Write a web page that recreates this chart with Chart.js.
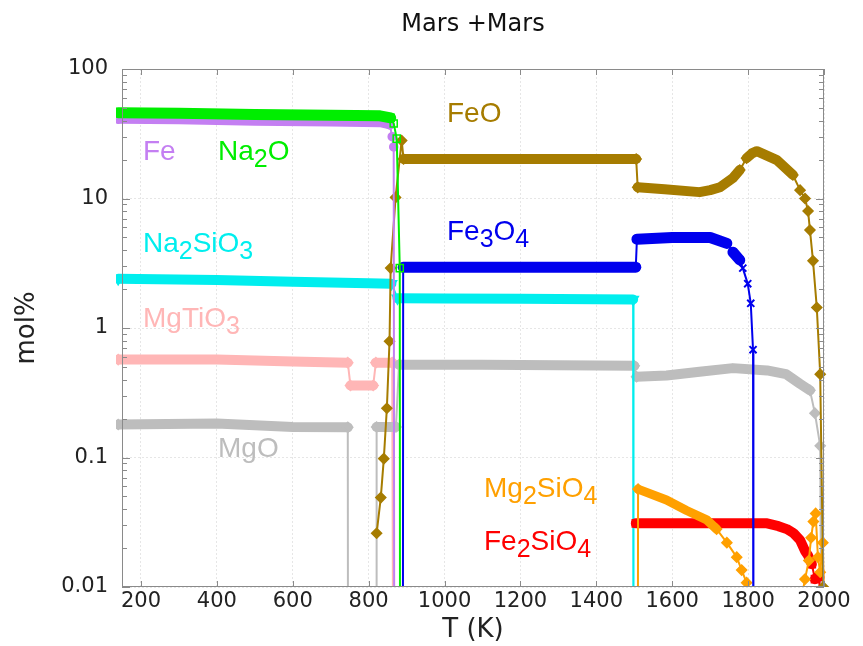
<!DOCTYPE html>
<html>
<head>
<meta charset="utf-8">
<script src="https://cdn.jsdelivr.net/npm/chart.js@4.4.1/dist/chart.umd.min.js"></script>
<style>
  html, body { margin: 0; padding: 0; background: #fff; }
</style>
</head>
<body>
<canvas id="phaseChart" width="863" height="646"></canvas>
<script>
const chartTitle = 'Mars +Mars';
const xTicks = [200, 400, 600, 800, 1000, 1200, 1400, 1600, 1800, 2000];
const yTicks = [0.01, 0.1, 1, 10, 100];

// temperature (K) / amount (mol%) per species
const feT = [140, 300, 500, 700, 830, 856, 862, 866, 868];
const feMol = [41, 40.5, 39.5, 39, 38.5, 37, 30, 25, 0.0001];

const na2oT = [140, 300, 500, 700, 830, 858, 866, 874, 882, 883];
const na2oMol = [46, 45.5, 44.5, 44, 43.5, 42, 38, 29, 2.9, 0.0001];

const feoT = [821, 832, 840, 848, 855, 858, 871, 887, 892, 1100, 1300, 1505, 1509, 1580, 1672, 1700, 1726, 1760, 1778, 1796, 1810, 1823, 1876, 1918, 1937, 1950, 1958, 1963, 1971, 1981, 1990, 1998];
const feoMol = [0.026, 0.049, 0.098, 0.24, 0.79, 2.9, 10.2, 28, 20.2, 20.2, 20.2, 20.2, 12.2, 11.8, 11.2, 11.6, 12.2, 14.4, 16.6, 20.5, 22.3, 23.2, 19.8, 15.2, 11.6, 10, 8, 5.7, 3.3, 1.44, 0.44, 0.01];

const fe3o4T = [890, 891, 1100, 1300, 1504, 1507, 1600, 1700, 1744, 1760, 1778, 1786, 1799, 1807, 1813, 1814];
const fe3o4Mol = [0.0001, 2.95, 2.95, 2.95, 2.95, 4.85, 5.0, 5.0, 4.5, 3.85, 3.35, 2.9, 2.2, 1.55, 0.68, 0.0001];

const na2sio3T = [140, 400, 600, 800, 860, 876, 1000, 1200, 1400, 1497, 1498];
const na2sio3Mol = [2.4, 2.35, 2.28, 2.22, 2.2, 1.7, 1.69, 1.68, 1.67, 1.66, 0.0001];

const mgtio3T = [140, 400, 600, 745, 752, 812, 819, 862, 866];
const mgtio3Mol = [0.57, 0.57, 0.55, 0.54, 0.36, 0.36, 0.54, 0.54, 0.0001];

const mgoT = [140, 400, 600, 745, 746, 820, 821, 872, 880, 1100, 1300, 1500, 1506, 1585, 1672, 1760, 1850, 1900, 1937, 1963, 1976, 1990, 1996];
const mgoMol = [0.18, 0.183, 0.172, 0.171, 0.0001, 0.0001, 0.172, 0.172, 0.52, 0.52, 0.515, 0.51, 0.42, 0.43, 0.46, 0.49, 0.47, 0.44, 0.37, 0.33, 0.22, 0.123, 0.0001];

const mg2sio4T = [1509, 1510, 1585, 1638, 1691, 1717, 1744, 1770, 1783, 1796, 1805, 1940, 1950, 1960, 1966, 1972, 1978, 1984, 1990, 1997, 2000];
const mg2sio4Mol = [0.0001, 0.057, 0.047, 0.039, 0.033, 0.028, 0.022, 0.017, 0.0135, 0.0108, 0.008, 0.008, 0.0115, 0.016, 0.024, 0.032, 0.037, 0.017, 0.013, 0.022, 0.008];

const fe2sio4T = [1504, 1600, 1700, 1800, 1850, 1880, 1902, 1920, 1937, 1950, 1958, 1968, 1976, 1982, 1988, 1990];
const fe2sio4Mol = [0.031, 0.031, 0.031, 0.031, 0.031, 0.0295, 0.028, 0.026, 0.023, 0.019, 0.0175, 0.015, 0.0115, 0.012, 0.012, 0.0001];

const toPoints = (t, m) => t.map((x, i) => ({ x: x, y: m[i] }));

// first entry is drawn on top
const series = [
  { name: 'Na2O', t: na2oT, m: na2oMol, color: '#00ee00', marker: 'rect', radius: 5, band: 11, open: true, at: [218, 160] },
  { name: 'Fe', t: feT, m: feMol, color: '#c47ff2', marker: 'circle', radius: 4, band: 9, at: [143, 160] },
  { name: 'Fe3O4', t: fe3o4T, m: fe3o4Mol, color: '#0000ee', marker: 'crossRot', radius: 5, band: 11, at: [447, 240] },
  { name: 'FeO', t: feoT, m: feoMol, color: '#a67c00', marker: 'rectRot', radius: 5, band: 10, at: [447, 122] },
  { name: 'Mg2SiO4', t: mg2sio4T, m: mg2sio4Mol, color: '#ffa000', marker: 'rectRot', radius: 5, band: 9, at: [484, 497] },
  { name: 'Fe2SiO4', t: fe2sio4T, m: fe2sio4Mol, color: '#ff0000', marker: 'rect', radius: 5, band: 10, steep: 4, at: [484, 550] },
  { name: 'Na2SiO3', t: na2sio3T, m: na2sio3Mol, color: '#00eeee', marker: 'triangle', radius: 6, band: 10, at: [143, 252] },
  { name: 'MgO', t: mgoT, m: mgoMol, color: '#bdbdbd', marker: 'rectRot', radius: 5, band: 10, at: [218, 457] },
  { name: 'MgTiO3', t: mgtio3T, m: mgtio3Mol, color: '#ffb6b6', marker: 'rectRot', radius: 5, band: 10, at: [143, 327] }
];

// flat runs look like a solid band of markers, steep runs are a thin line
function isFlat(chart, s, i, j) {
  const x = chart.scales.x, y = chart.scales.y;
  const dx = Math.abs(x.getPixelForValue(s.t[j]) - x.getPixelForValue(s.t[i]));
  const dy = Math.abs(y.getPixelForValue(s.m[j]) - y.getPixelForValue(s.m[i]));
  return dy <= (s.steep || 1.2) * dx;
}

function markerRadius(s) {
  return ctx => {
    const i = ctx.dataIndex;
    if (i > 0 && i < s.t.length - 1 && isFlat(ctx.chart, s, i - 1, i) && isFlat(ctx.chart, s, i, i + 1)) {
      return 0;
    }
    return s.radius;
  };
}

const datasets = series.map(s => ({
  label: s.name,
  data: toPoints(s.t, s.m),
  borderColor: s.color,
  backgroundColor: s.open ? 'rgba(0,0,0,0)' : s.color,
  pointBorderColor: s.color,
  pointBackgroundColor: s.open ? 'rgba(0,0,0,0)' : s.color,
  pointStyle: s.marker,
  pointRotation: s.marker === 'triangle' ? 180 : 0,
  pointRadius: markerRadius(s),
  pointBorderWidth: s.marker === 'crossRot' ? 2 : 1.5,
  borderWidth: 2,
  borderCapStyle: 'round',
  borderJoinStyle: 'round',
  segment: { borderWidth: ctx => isFlat(ctx.chart, s, ctx.p0DataIndex, ctx.p1DataIndex) ? s.band : 2 },
  tension: 0,
  clip: { left: 6, top: 6, right: 6, bottom: 0 }
}));

function drawFormula(ctx, text, x, y, color) {
  ctx.fillStyle = color;
  ctx.textAlign = 'left';
  ctx.textBaseline = 'alphabetic';
  for (const part of text.match(/\d+|\D+/g)) {
    const sub = /\d/.test(part);
    ctx.font = (sub ? '25px' : '28px') + ' "Liberation Sans", Arial, sans-serif';
    ctx.fillText(part, x, sub ? y + 7 : y);
    x += ctx.measureText(part).width;
  }
}

const frameAndNotes = {
  id: 'frameAndNotes',
  afterDraw(chart) {
    const { ctx, chartArea: a, scales } = chart;
    const x = scales.x, y = scales.y;
    ctx.save();

    // species names
    series.forEach(s => drawFormula(ctx, s.name, s.at[0], s.at[1], s.color));

    // inner tick marks
    ctx.strokeStyle = '#8a8a8a';
    ctx.lineWidth = 1;
    ctx.beginPath();
    yTicks.forEach((v, i) => {
      const py = Math.round(y.getPixelForValue(v)) + 0.5;
      ctx.moveTo(a.left, py); ctx.lineTo(a.left + 8, py);
      ctx.moveTo(a.right, py); ctx.lineTo(a.right - 8, py);
      if (i < yTicks.length - 1) {
        for (let k = 2; k < 10; k++) {
          const pm = Math.round(y.getPixelForValue(v * k)) + 0.5;
          ctx.moveTo(a.left, pm); ctx.lineTo(a.left + 5, pm);
          ctx.moveTo(a.right, pm); ctx.lineTo(a.right - 5, pm);
        }
      }
    });
    xTicks.forEach(v => {
      const px = Math.round(x.getPixelForValue(v)) + 0.5;
      ctx.moveTo(px, a.bottom); ctx.lineTo(px, a.bottom - 6);
      ctx.moveTo(px, a.top); ctx.lineTo(px, a.top + 6);
    });
    ctx.stroke();
    ctx.strokeRect(a.left + 0.5, a.top + 0.5, a.right - a.left - 1, a.bottom - a.top - 1);

    // title over the plot area
    ctx.fillStyle = '#111';
    ctx.font = '24px "DejaVu Sans", Verdana, sans-serif';
    ctx.textAlign = 'center';
    ctx.textBaseline = 'middle';
    ctx.fillText(chartTitle, (a.left + a.right) / 2, 25);
    ctx.restore();
  }
};

const fontFamily = '"DejaVu Sans", Verdana, sans-serif';
const tickFont = { family: fontFamily, size: 21 };
const axisTitleFont = { family: fontFamily, size: 26 };

new Chart(document.getElementById('phaseChart'), {
  type: 'line',
  data: { datasets: datasets },
  options: {
    responsive: false,
    animation: false,
    layout: { padding: { top: 69, right: 39, left: 0, bottom: 0 } },
    plugins: { legend: { display: false }, tooltip: { enabled: false }, title: { display: false } },
    scales: {
      x: {
        type: 'linear',
        min: 150,
        max: 2000,
        afterBuildTicks: scale => { scale.ticks = xTicks.map(v => ({ value: v })); },
        afterFit: scale => { scale.height = 59; },
        ticks: { font: tickFont, color: '#222', padding: 2, maxRotation: 0, autoSkip: false, callback: v => String(v) },
        grid: { color: '#e6e6e6', drawTicks: false },
        border: { display: false, dash: [2, 2] },
        title: { display: true, text: 'T (K)', font: axisTitleFont, color: '#222', padding: { top: 0, bottom: 0 } }
      },
      y: {
        type: 'logarithmic',
        min: 0.01,
        max: 100,
        afterBuildTicks: scale => { scale.ticks = yTicks.map(v => ({ value: v })); },
        afterFit: scale => { scale.width = 122; },
        ticks: { font: tickFont, color: '#222', padding: 14, callback: v => String(v) },
        grid: { color: '#e6e6e6', drawTicks: false },
        border: { display: false, dash: [2, 2] },
        title: { display: true, text: 'mol%', font: axisTitleFont, color: '#222', padding: { top: 12, bottom: 0 } }
      }
    }
  },
  plugins: [frameAndNotes]
});
</script>
</body>
</html>
